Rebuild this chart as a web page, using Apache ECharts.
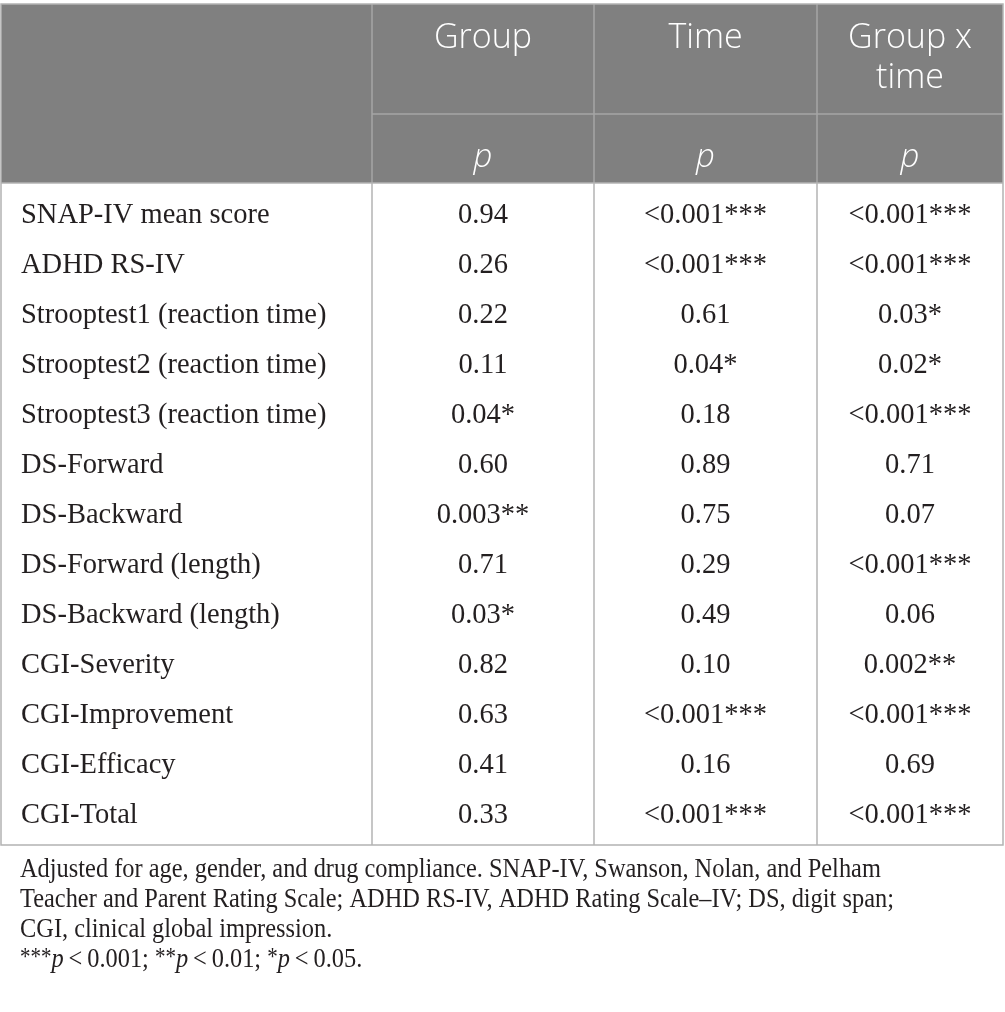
<!DOCTYPE html>
<html>
<head>
<meta charset="utf-8">
<script src="https://cdn.jsdelivr.net/npm/echarts@6/dist/echarts.min.js"></script>
<style>
  html, body { margin: 0; padding: 0; background: #fff; }
  #main { width: 1005px; height: 1012px; }
</style>
</head>
<body>
<div id="main"></div>
<script>
// table content
var columns = ['', 'Group', 'Time', 'Group x\ntime'];
var subHeader = ['', 'p', 'p', 'p'];
var measures = [
  'SNAP-IV mean score', 'ADHD RS-IV', 'Strooptest1 (reaction time)',
  'Strooptest2 (reaction time)', 'Strooptest3 (reaction time)', 'DS-Forward',
  'DS-Backward', 'DS-Forward (length)', 'DS-Backward (length)', 'CGI-Severity',
  'CGI-Improvement', 'CGI-Efficacy', 'CGI-Total'
];
var pGroup = ['0.94', '0.26', '0.22', '0.11', '0.04*', '0.60', '0.003**', '0.71',
  '0.03*', '0.82', '0.63', '0.41', '0.33'];
var pTime = ['<0.001***', '<0.001***', '0.61', '0.04*', '0.18', '0.89', '0.75', '0.29',
  '0.49', '0.10', '<0.001***', '0.16', '<0.001***'];
var pGroupTime = ['<0.001***', '<0.001***', '0.03*', '0.02*', '<0.001***', '0.71', '0.07',
  '<0.001***', '0.06', '0.002**', '<0.001***', '0.69', '<0.001***'];
var footnotes = [
  'Adjusted for age, gender, and drug compliance. SNAP-IV, Swanson, Nolan, and Pelham',
  'Teacher and Parent Rating Scale; ADHD RS-IV, ADHD Rating Scale\u2013IV; DS, digit span;',
  'CGI, clinical global impression.',
  '{st|***}{it|p}{n|\u2009<\u20090.001; }{st|**}{it|p}{n|\u2009<\u20090.01; }{st|*}{it|p}{n|\u2009<\u20090.05.}'
];

// layout (table units)
var colEdges = [0, 371, 593, 816, 1002];
var headH = [110, 69];
var bodyTop = 186, rowH = 50, tableH = 841;
var serif = '"Liberation Serif", "DejaVu Serif", serif';
var sans = '"Open Sans", "Noto Sans", sans-serif';
var ink = '#231f20';

var myChart = echarts.init(document.getElementById('main'));

// cells: [col, row, text, kind]
var cells = [];
columns.forEach(function (t, c) { cells.push([c, 0, t, 'head']); });
subHeader.forEach(function (t, c) { cells.push([c, 1, t, 'sub']); });
measures.forEach(function (m, i) {
  cells.push([0, i + 2, m, 'label']);
  cells.push([1, i + 2, pGroup[i], 'val']);
  cells.push([2, i + 2, pTime[i], 'val']);
  cells.push([3, i + 2, pGroupTime[i], 'val']);
});

function rowSpan(r) {
  if (r === 0) return [0, headH[0]];
  if (r === 1) return [headH[0], headH[0] + headH[1]];
  var top = bodyTop + (r - 2) * rowH;
  return [top, top + rowH];
}

function renderCell(params, api) {
  var c = api.value(0), r = api.value(1);
  var item = cells[params.dataIndex];
  var text = item[2], kind = item[3];
  var span = rowSpan(r);
  var p0 = api.coord([colEdges[c], span[0]]);
  var p1 = api.coord([colEdges[c + 1], span[1]]);
  var cx = (p0[0] + p1[0]) / 2;
  var cy = (p0[1] + p1[1]) / 2 + 1;
  var style;
  if (kind === 'head') {
    style = { text: text, x: cx, y: p0[1] + 14, align: 'center', verticalAlign: 'top',
      font: '300 34px ' + sans, lineHeight: 40, fill: '#fff' };
  } else if (kind === 'sub') {
    style = { text: text, x: cx, y: p0[1] + 44, align: 'center', verticalAlign: 'middle',
      font: 'italic 300 33px ' + sans, fill: '#fff' };
  } else if (kind === 'label') {
    style = { text: text, x: p0[0] + 20, y: cy, align: 'left',
      verticalAlign: 'middle', font: '28.5px ' + serif, fill: ink };
  } else {
    style = { text: text, x: cx, y: cy, align: 'center',
      verticalAlign: 'middle', font: '28.5px ' + serif, fill: ink };
  }
  return { type: 'text', style: style };
}

// header background and grid lines built from layout
function renderFrame(params, api) {
  var tl = api.coord([0, 0]);
  var br = api.coord([colEdges[colEdges.length - 1], tableH]);
  var hb = api.coord([0, headH[0] + headH[1]]);
  var h1 = api.coord([0, headH[0]]);
  var kids = [];
  kids.push({ type: 'rect', shape: { x: tl[0], y: tl[1], width: br[0] - tl[0], height: hb[1] - tl[1] },
    style: { fill: '#808080' } });
  // header inner line (skips first column)
  var x1 = api.coord([colEdges[1], 0])[0];
  kids.push({ type: 'line', shape: { x1: x1, y1: h1[1], x2: br[0], y2: h1[1] },
    style: { stroke: '#a6a6a6', lineWidth: 1.5 } });
  // vertical lines
  for (var i = 1; i < colEdges.length - 1; i++) {
    var x = api.coord([colEdges[i], 0])[0];
    kids.push({ type: 'line', shape: { x1: x, y1: tl[1], x2: x, y2: hb[1] },
      style: { stroke: '#a6a6a6', lineWidth: 1.5 } });
    kids.push({ type: 'line', shape: { x1: x, y1: hb[1], x2: x, y2: br[1] },
      style: { stroke: '#b3b3b3', lineWidth: 1.5 } });
  }
  kids.push({ type: 'line', shape: { x1: tl[0], y1: hb[1], x2: br[0], y2: hb[1] },
    style: { stroke: '#b3b3b3', lineWidth: 1.5 } });
  kids.push({ type: 'rect', shape: { x: tl[0], y: tl[1], width: br[0] - tl[0], height: br[1] - tl[1] },
    style: { fill: 'none', stroke: '#b3b3b3', lineWidth: 1.5 } });
  return { type: 'group', children: kids };
}

var noteFont = '24.4px ' + serif;
var notes = footnotes.map(function (line, i) {
  return {
    type: 'text', x: 20, y: 870 + i * 30, scaleY: 1.15,
    style: {
      text: line, x: 0, y: 0, verticalAlign: 'middle', font: noteFont, fill: ink,
      rich: {
        n: { font: noteFont, fill: ink },
        st: { font: '21px ' + serif, fill: ink, verticalAlign: 'top' },
        it: { font: 'italic ' + noteFont, fill: ink }
      }
    }
  };
});

option = {
  animation: false,
  grid: { left: 1, top: 4, width: 1002, height: tableH },
  xAxis: { type: 'value', min: 0, max: 1002, show: false },
  yAxis: { type: 'value', min: 0, max: tableH, inverse: true, show: false },
  graphic: notes,
  series: [
    { type: 'custom', renderItem: renderFrame, data: [[0, 0]], silent: true, z: 1 },
    { type: 'custom', renderItem: renderCell, data: cells, silent: true, z: 2,
      encode: { x: 0, y: 1 } }
  ]
};
myChart.setOption(option);
</script>
</body>
</html>
